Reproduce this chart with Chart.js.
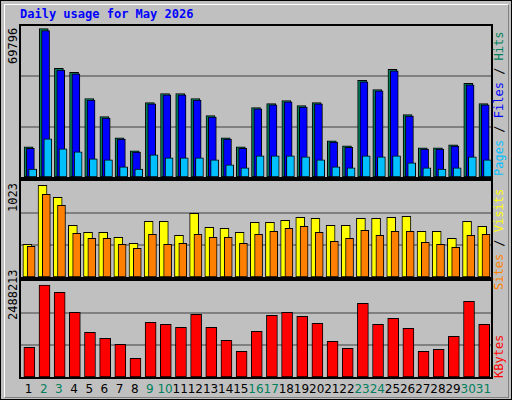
<!DOCTYPE html>
<html><head><meta charset="utf-8">
<script src="https://cdn.jsdelivr.net/npm/chart.js@4"></script>
<style>
body{margin:0;background:#fff;}
#frame{position:absolute;left:0;top:0;width:510px;height:398px;background:#C0C0C0;border:1px solid #000;}
#bev{position:absolute;left:3px;top:3px;width:503px;height:392px;border-top:1px solid #fff;border-left:1px solid #fff;border-right:1px solid #808080;border-bottom:1px solid #808080;}
.panel{position:absolute;left:19px;width:470px;border:2px solid #000;}
canvas{position:absolute;left:0;top:0;}
.t{position:absolute;font-family:"DejaVu Sans Mono",monospace;font-size:12px;white-space:nowrap;}
.vl{position:absolute;font-family:"DejaVu Sans Mono",monospace;font-size:12px;white-space:pre;transform-origin:0 0;transform:rotate(-90deg);}
.day{position:absolute;top:382px;font-family:"DejaVu Sans",sans-serif;font-size:12px;transform:translateX(-50%);}
</style></head><body>
<div id="frame"><div id="bev"></div></div>
<div class="t" style="left:20px;top:7px;color:#0000FF;font-weight:bold;">Daily usage for May 2026</div>
<div class="panel" style="top:24px;height:151px;"><canvas id="c1" width="470" height="151"></canvas></div>
<div class="panel" style="top:179px;height:96px;"><canvas id="c2" width="470" height="96"></canvas></div>
<div class="panel" style="top:279px;height:96px;"><canvas id="c3" width="470" height="96"></canvas></div>
<div class="vl" style="left:6px;top:64px;">69796</div>
<div class="vl" style="left:6px;top:212px;">1023</div>
<div class="vl" style="left:6px;top:320px;">2488213</div>
<div class="vl" style="left:492px;top:176px;"><span style="color:#00C0FF">Pages</span><span style="color:#000"> / </span><span style="color:#0000FF">Files</span><span style="color:#000"> / </span><span style="color:#00805C">Hits</span></div>
<div class="vl" style="left:492px;top:290px;"><span style="color:#FF8000">Sites</span><span style="color:#000"> / </span><span style="color:#FFFF00">Visits</span></div>
<div class="vl" style="left:492px;top:378px;color:#FF0000">KBytes</div>
<div id="days"></div>
<script>
const days=[1,2,3,4,5,6,7,8,9,10,11,12,13,14,15,16,17,18,19,20,21,22,23,24,25,26,27,28,29,30,31];
const weekend=[2,3,9,10,16,17,23,24,30,31];
const hits=[14190,69796,51080,49190,36890,28380,18450,12300,35000,39260,39260,36890,28850,18450,14190,32640,34530,35950,33580,35000,17030,14660,45410,41150,50610,29330,13720,13720,15140,43990,34530];
const files=[13500,68900,50300,48500,36200,27700,17800,11700,34400,38600,38600,36200,28200,17800,13500,32000,33900,35300,32900,34400,16400,14000,44700,40500,49900,28700,13100,13100,14500,43300,33900];
const pages=[3780,17970,13240,11830,8510,8040,4730,3780,10410,8990,8990,8990,8040,5680,4260,9930,9930,9930,9460,8040,4730,4260,9930,9460,9930,6620,4260,3780,4260,9460,8040];
const visits=[365,1023,889,576,498,498,443,376,621,621,465,710,554,543,498,610,610,632,666,655,576,576,655,655,666,677,510,510,431,621,565];
const sites=[342,922,799,487,431,431,365,320,476,365,376,476,443,443,376,476,510,543,565,498,398,431,521,465,510,510,387,365,331,465,476];
const kbytes=[803000,2488213,2290000,1750000,1209000,1046000,884000,506000,1479000,1425000,1344000,1695000,1344000,992000,695000,1236000,1668000,1750000,1641000,1452000,965000,776000,1993000,1425000,1587000,1317000,695000,749000,1101000,2047000,1425000];
const maxes=[71000,1070,2600000];

function ds(vals,off,color,w,order){return {data:vals.map((v,i)=>({x:i+off,y:v})),backgroundColor:color,borderColor:'#000',borderWidth:1,borderSkipped:false,barThickness:w,grouped:false,order:order};}
function make(id,sets,max){
  return new Chart(document.getElementById(id),{type:'bar',data:{datasets:sets},
  options:{responsive:false,animation:false,devicePixelRatio:1,layout:{padding:0},
   plugins:{legend:{display:false},tooltip:{enabled:false}},
   scales:{x:{type:'linear',min:0,max:31,offset:false,bounds:'data',display:false},
     y:{min:0,max:max,display:true,border:{display:false},ticks:{display:false},
        afterBuildTicks:s=>{s.ticks=[{value:max/3},{value:2*max/3}];},
        grid:{color:'#808080',lineWidth:2,drawTicks:false}}}}});
}
make('c1',[ds(hits,0.50,'#00805C',9,3),ds(files,0.62,'#0000FF',8,2),ds(pages,0.77,'#00C0FF',8,1)],maxes[0]);
make('c2',[ds(visits,0.42,'#FFFF00',9,2),ds(sites,0.67,'#FF8000',8,1)],maxes[1]);
const c3=make('c3',[ds(kbytes,0.55,'#FF0000',11,1)],maxes[2]);
const dd=document.getElementById('days');
days.forEach((d,i)=>{const e=document.createElement('div');e.className='day';
 e.style.left=(21+c3.scales.x.getPixelForValue(i+0.5))+'px';
 e.style.color=weekend.includes(d)?'#00805C':'#000';e.textContent=d;dd.appendChild(e);});
</script>
</body></html>
